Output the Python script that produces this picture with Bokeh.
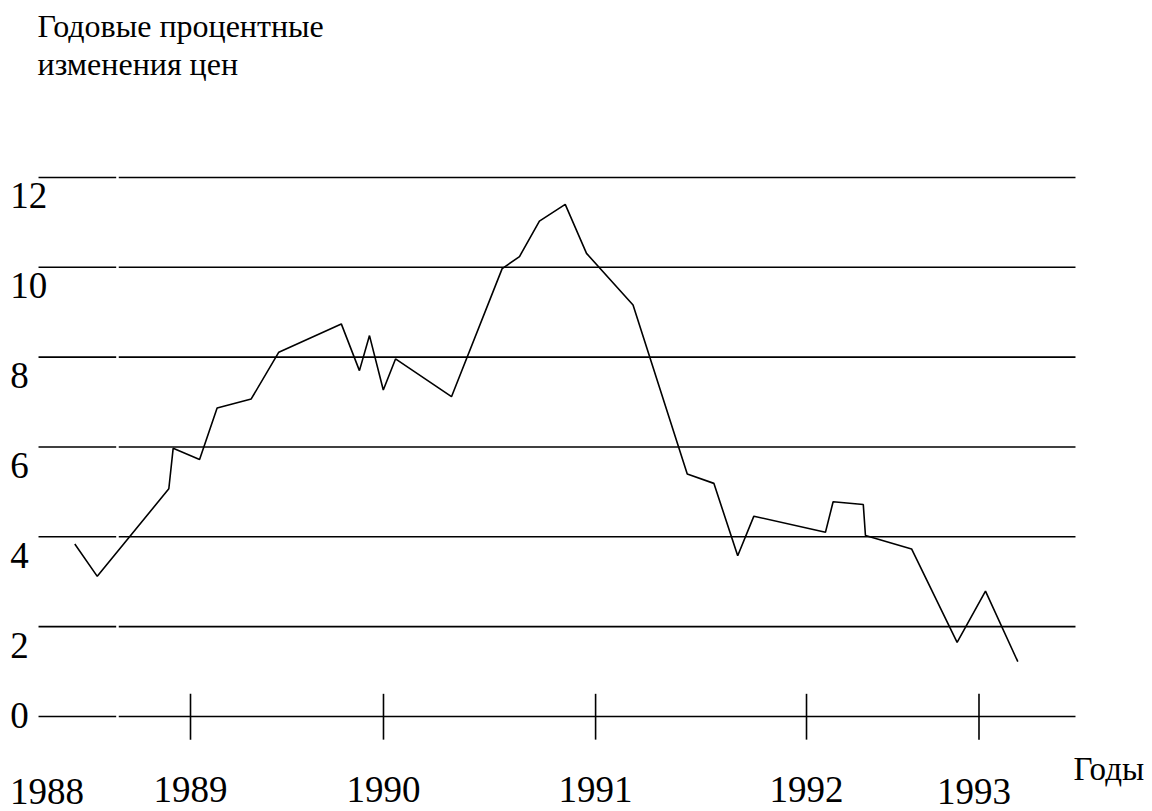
from bokeh.plotting import figure
from bokeh.models import Range1d
from bokeh.core.properties import value
from bokeh.embed import file_html
from bokeh.resources import INLINE

# ---- data ----
time = [1988.413, 1988.527, 1988.890, 1988.912, 1989.046, 1989.135, 1989.308, 1989.448,
        1989.765, 1989.857, 1989.908, 1989.978, 1990.040, 1990.324, 1990.581, 1990.669,
        1990.770, 1990.901, 1991.009, 1991.245, 1991.520, 1991.655, 1991.776, 1991.858,
        1992.221, 1992.260, 1992.413, 1992.424, 1992.658, 1992.889, 1993.033, 1993.197]
price_change = [3.84, 3.12, 5.07, 5.97, 5.72, 6.87, 7.07, 8.11,
                8.74, 7.70, 8.48, 7.27, 7.96, 7.12, 9.97, 10.24,
                11.03, 11.40, 10.31, 9.16, 5.40, 5.19, 3.58, 4.46,
                4.10, 4.78, 4.72, 4.03, 3.73, 1.65, 2.79, 1.22]
y_ticks = [0, 2, 4, 6, 8, 10, 12]
year_tick_pos = [1989.0, 1989.979, 1991.055, 1992.125, 1993.0]
year_labels = ["1989", "1990", "1991", "1992", "1993"]
first_year_label = "1988"
first_year_pos = 1988.272
title_lines = ["Годовые процентные", "изменения цен"]
x_axis_title = "Годы"

FONT = value("Liberation Serif")
LW = 1.6

p = figure(width=1152, height=811, output_backend="svg", toolbar_location=None,
           x_range=Range1d(1988.0361, 1993.8802), y_range=Range1d(-2.115, 15.940),
           min_border=0, min_border_left=0, min_border_right=0,
           min_border_top=0, min_border_bottom=0)
p.axis.visible = False
p.grid.visible = False
p.outline_line_color = None
p.background_fill_color = "white"
p.border_fill_color = "white"

# horizontal grid lines, drawn in two pieces (small gap near the left)
gx_start, gx_gap0, gx_gap1, gx_end = 1988.229, 1988.623, 1988.636, 1993.4895
n = len(y_ticks)
p.segment(x0=[gx_start] * n, y0=y_ticks, x1=[gx_gap0] * n, y1=y_ticks,
          line_color="black", line_width=LW)
p.segment(x0=[gx_gap1] * n, y0=y_ticks, x1=[gx_end] * n, y1=y_ticks,
          line_color="black", line_width=LW)

# year tick marks crossing the zero line
m = len(year_tick_pos)
p.segment(x0=year_tick_pos, y0=[-0.515] * m, x1=year_tick_pos, y1=[0.505] * m,
          line_color="black", line_width=LW)

# data line
p.line(time, price_change, line_color="black", line_width=LW)

# y labels
ylab_y = [0.02 if v == 0 else v - 0.41 for v in y_ticks]
p.text(x=[1988.0855] * n, y=ylab_y, text=[str(v) for v in y_ticks],
       text_font=FONT, text_font_size="37px", text_align="left",
       text_baseline="alphabetic", text_color="black")

# year labels
year_label_x = year_tick_pos[:-1] + [year_tick_pos[-1] - 0.025]
p.text(x=year_label_x, y=[-1.62, -1.62, -1.62, -1.62, -1.66], text=year_labels,
       text_font=FONT, text_font_size="37px", text_align="center",
       text_baseline="alphabetic", text_color="black")
p.text(x=[first_year_pos], y=[-1.67], text=[first_year_label],
       text_font=FONT, text_font_size="37px", text_align="center",
       text_baseline="alphabetic", text_color="black")

# axis title
p.text(x=[1993.479], y=[-1.16], text=[x_axis_title],
       text_font=FONT, text_font_size="33px", text_align="left",
       text_baseline="alphabetic", text_color="black")

# chart title
p.text(x=[1988.224, 1988.224], y=[15.38, 14.52], text=title_lines,
       text_font=FONT, text_font_size="32px", text_align="left",
       text_baseline="alphabetic", text_color="black")

open("out.html", "w").write(file_html(p, INLINE))
